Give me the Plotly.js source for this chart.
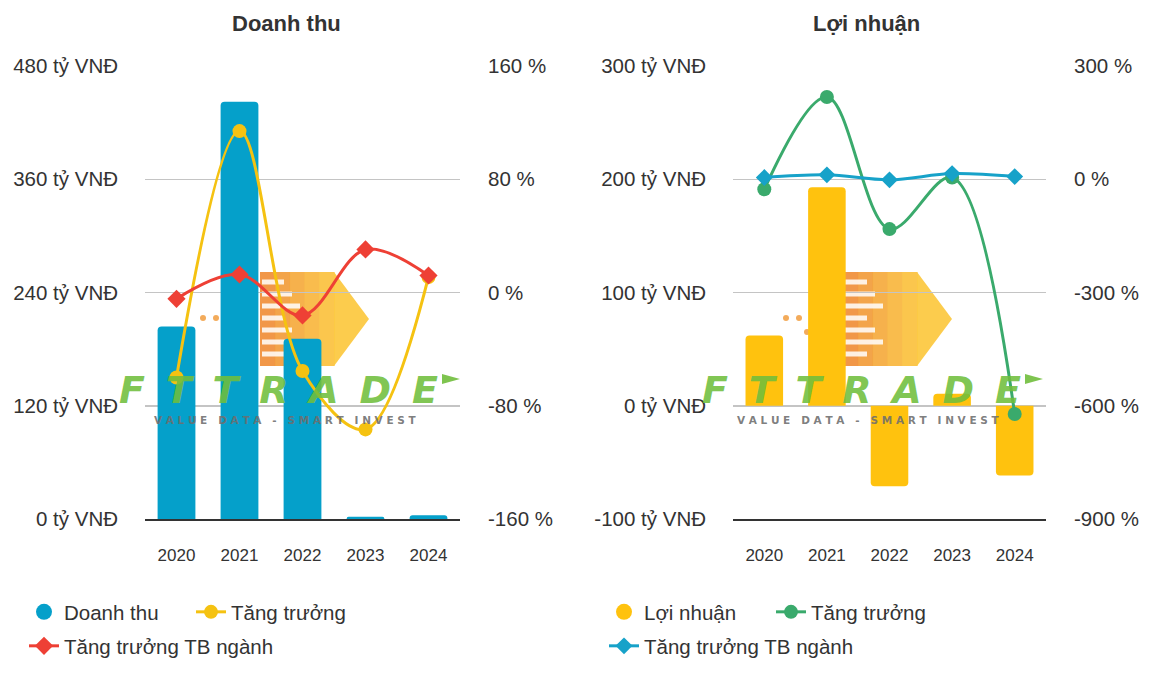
<!DOCTYPE html>
<html><head><meta charset="utf-8">
<script src="https://cdn.plot.ly/plotly-3.0.1.min.js"></script>
<style>html,body{margin:0;padding:0;background:#fff}#chart{width:1152px;height:682px}</style>
</head><body><div id="chart"></div>
<script>
const years = ['2020','2021','2022','2023','2024'];
const doanhThu = [204, 442, 191, 2.4, 4];
const tangTruongDT = [-60, 114, -55.5, -96.7, 11];
const tbNganhDT = [-4.5, 12.7, -16.2, 30.4, 12];
const loiNhuan = [62, 193, -71, 10.6, -61.5];
const tangTruongLN = [-26.5, 218, -132, 4.5, -622];
const tbNganhLN = [4.5, 11.6, -1.6, 15, 7];
const ticksDT = [0, 120, 240, 360, 480];
const ticksDTpct = [-160, -80, 0, 80, 160];
const ticksLN = [-100, 0, 100, 200, 300];
const ticksLNpct = [-900, -600, -300, 0, 300];

const F = 'Liberation Sans, Arial, sans-serif';
const txt = '#333333';
const H = 682, W = 1152;
const py = v => (H - v) / H;
const px = v => v / W;

const traces = [
  {type:'scatter', mode:'markers', x:[null], y:[null], xaxis:'x', yaxis:'y', name:'Doanh thu', legend:'legend',
    marker:{symbol:'circle', size:20, color:'#05a0ca'}},
  {type:'bar', x:years, y:doanhThu, xaxis:'x', yaxis:'y', marker:{color:'#05a0ca', cornerradius:4}, width:0.6, showlegend:false},
  {type:'scatter', mode:'lines+markers', x:years, y:tangTruongDT, xaxis:'x', yaxis:'y2', name:'Tăng trưởng', legend:'legend',
   line:{color:'#f5c211', width:3, shape:'spline'}, marker:{symbol:'circle', size:14, color:'#f5c211'}},
  {type:'scatter', mode:'lines+markers', x:years, y:tbNganhDT, xaxis:'x', yaxis:'y2', name:'Tăng trưởng TB ngành', legend:'legend2',
   line:{color:'#ee4035', width:3, shape:'spline'}, marker:{symbol:'diamond', size:14, color:'#ee4035'}},
  {type:'scatter', mode:'markers', x:[null], y:[null], xaxis:'x2', yaxis:'y3', name:'Lợi nhuận', legend:'legend3',
    marker:{symbol:'circle', size:20, color:'#ffc20e'}},
  {type:'bar', x:years, y:loiNhuan, xaxis:'x2', yaxis:'y3', marker:{color:'#ffc20e', cornerradius:4}, width:0.6, showlegend:false},
  {type:'scatter', mode:'lines+markers', x:years, y:tangTruongLN, xaxis:'x2', yaxis:'y4', name:'Tăng trưởng', legend:'legend3',
   line:{color:'#3aaa6c', width:3, shape:'spline'}, marker:{symbol:'circle', size:14, color:'#3aaa6c'}},
  {type:'scatter', mode:'lines+markers', x:years, y:tbNganhLN, xaxis:'x2', yaxis:'y4', name:'Tăng trưởng TB ngành', legend:'legend4',
   line:{color:'#17a2c9', width:3, shape:'spline'}, marker:{symbol:'diamond', size:13, color:'#17a2c9'}},
];

const yDom = [py(519), py(66)];
const xAx = (dom, anchor) => ({domain:dom, anchor:anchor, type:'category', range:[-0.5,4.5], showgrid:false, zeroline:false, showline:true, linecolor:'#333', linewidth:2,
  ticks:'', tickfont:{family:F, size:17, color:txt}, ticklabelstandoff:20});
const yL = (vals, anchor) => ({domain:yDom, anchor:anchor, range:[vals[0], vals[vals.length-1]], tickmode:'array', tickvals:vals,
  ticktext:vals.map(v => v + ' tỷ VNĐ'), showgrid:true, gridcolor:'#c4c4c4', gridwidth:1.5,
  zeroline:false, showline:false, ticks:'', tickfont:{family:F, size:20.5, color:txt}, ticklabelstandoff:26});
const yR = (vals, anchor, over) => ({domain:yDom, anchor:anchor, overlaying:over, side:'right', range:[vals[0], vals[vals.length-1]], tickmode:'array', tickvals:vals,
  ticktext:vals.map(v => v + ' %'), showgrid:false, zeroline:false, showline:false, ticks:'', tickfont:{family:F, size:20.5, color:txt}, ticklabelstandoff:27});

const leg = (x, y) => ({x:px(x), y:py(y), xanchor:'left', yanchor:'middle', orientation:'h', font:{family:F, size:20.5, color:txt},
  bgcolor:'rgba(0,0,0,0)', itemwidth:30, traceorder:'normal', entrywidth:122, entrywidthmode:'pixels', itemclick:false});
const leg1 = (x, y) => Object.assign(leg(x, y), {entrywidth:0});

const shapes = [];
const annotations = [
  {text:'<b>Doanh thu</b>', x:px(286), y:py(24), xref:'paper', yref:'paper', xanchor:'center', yanchor:'middle', showarrow:false, font:{family:F, size:22, color:txt}},
  {text:'<b>Lợi nhuận</b>', x:px(866), y:py(24), xref:'paper', yref:'paper', xanchor:'center', yanchor:'middle', showarrow:false, font:{family:F, size:22, color:txt}},
];
const grad = ['#f08c34','#f29a36','#f5a938','#f8b53a','#fbc03a'];
[0, 583].forEach(o => {
  const X = v => px(v + o);
  const sw = (334 - 260) / grad.length;
  grad.forEach((c, i) => shapes.push({type:'rect', xref:'paper', yref:'paper', layer:'below', fillcolor:c, opacity:0.9, line:{width:0},
    x0:X(260 + i*sw), x1:X(260 + (i+1)*sw + 0.5), y0:py(366), y1:py(272)}));
  shapes.push({type:'path', xref:'paper', yref:'paper', layer:'below', fillcolor:'#fcc63a', opacity:0.9, line:{width:0},
    path:`M ${X(334)} ${py(272)} L ${X(369)} ${py(319)} L ${X(334)} ${py(366)} Z`});
  for (let i = 0; i < 7; i++) {
    const yy = 282 + i * 12;
    shapes.push({type:'line', xref:'paper', yref:'paper', layer:'below', x0:X(262), x1:X(262 + 22 + (i%3)*8), y0:py(yy), y1:py(yy), line:{color:'rgba(255,255,255,0.85)', width:5}});
  }
  [[203,318],[216,318],[224,332]].forEach(p => shapes.push({type:'circle', xref:'paper', yref:'paper', layer:'below',
    x0:X(p[0]-3), x1:X(p[0]+3), y0:py(p[1]-3), y1:py(p[1]+3), fillcolor:'rgba(240,150,50,0.8)', line:{width:0}}));
  annotations.push({text:'<b><i>F\u00a0\u2009T\u00a0\u2009T\u00a0\u2009R\u00a0\u2009A\u00a0\u2009D\u00a0\u2009E</i></b>', x:X(278), y:py(390), xref:'paper', yref:'paper', xanchor:'center', yanchor:'middle', showarrow:false,
    font:{family:'DejaVu Sans, sans-serif', size:38, color:'rgba(112,190,60,0.9)'}});
  annotations.push({text:'<b>V A L U E   D A T A   -   S M A R T   I N V E S T</b>', x:X(285), y:py(420), xref:'paper', yref:'paper', xanchor:'center', yanchor:'middle', showarrow:false,
    font:{family:'DejaVu Sans, sans-serif', size:10.5, color:'rgba(110,110,110,0.9)'}});
  shapes.push({type:'path', xref:'paper', yref:'paper', layer:'below', fillcolor:'rgba(112,190,60,0.9)', line:{width:0},
    path:`M ${X(442)} ${py(374)} L ${X(460)} ${py(379)} L ${X(442)} ${py(384)} Z`});
});

const layout = {
  width:W, height:H, margin:{l:0, r:0, t:0, b:0}, paper_bgcolor:'#fff', plot_bgcolor:'rgba(0,0,0,0)',
  font:{family:F, color:txt}, barmode:'group', hovermode:false,
  xaxis: xAx([px(145), px(460)], 'y'), xaxis2: xAx([px(733), px(1046)], 'y3'),
  yaxis: yL(ticksDT, 'x'), yaxis2: yR(ticksDTpct, 'x', 'y'),
  yaxis3: yL(ticksLN, 'x2'), yaxis4: yR(ticksLNpct, 'x2', 'y3'),
  legend: leg(24, 612), legend2: leg1(24, 646), legend3: leg(604, 612), legend4: leg1(604, 646),
  shapes: shapes, annotations: annotations,
};
Plotly.newPlot('chart', traces, layout, {displayModeBar:false, staticPlot:true});
</script></body></html>
